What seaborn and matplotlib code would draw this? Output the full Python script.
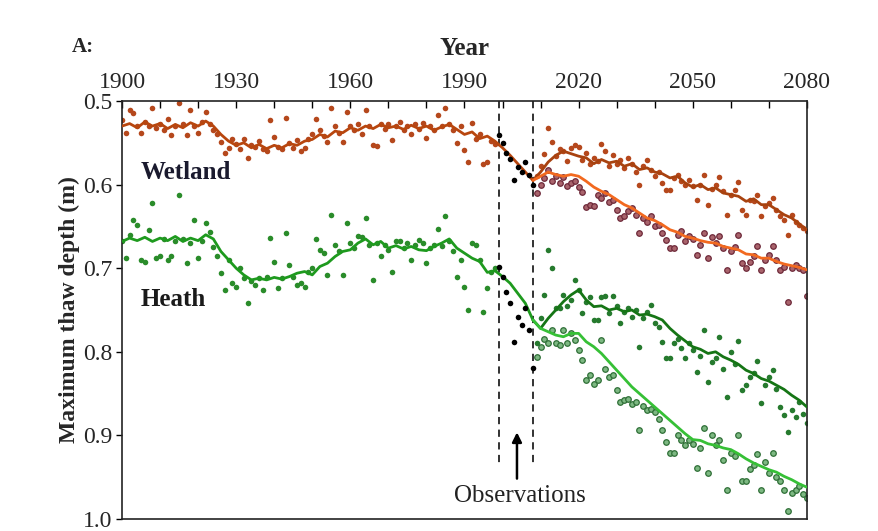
import numpy as np
import pandas as pd
import matplotlib
matplotlib.use("Agg")
import matplotlib.pyplot as plt
import seaborn as sns
from matplotlib.ticker import MultipleLocator, FormatStrFormatter

# ---------------- data ----------------
hist_years = list(range(1900, 1999))
wet_hist_pts = [0.523, 0.538, 0.511, 0.514, 0.530, 0.538, 0.525, 0.530, 0.508, 0.532,
                0.527, 0.535, 0.522, 0.541, 0.530, 0.502, 0.528, 0.541, 0.511, 0.530,
                0.538, 0.525, 0.513, 0.528, 0.535, 0.540, 0.549, 0.562, 0.556, 0.545,
                0.552, 0.558, 0.546, 0.568, 0.553, 0.555, 0.548, 0.558, 0.560, 0.523,
                0.543, 0.555, 0.558, 0.520, 0.550, 0.556, 0.547, 0.560, 0.556, 0.545,
                0.540, 0.522, 0.535, 0.542, 0.549, 0.508, 0.530, 0.538, 0.549, 0.513,
                0.530, 0.535, 0.528, 0.540, 0.511, 0.530, 0.553, 0.554, 0.527, 0.533,
                0.528, 0.547, 0.530, 0.525, 0.535, 0.530, 0.540, 0.528, 0.533, 0.526,
                0.544, 0.530, 0.535, 0.517, 0.530, 0.508, 0.527, 0.535, 0.550, 0.530,
                0.559, 0.573, 0.526, 0.545, 0.540, 0.575, 0.573, 0.548, 0.552]
heath_hist_pts = [0.668, 0.688, 0.660, 0.642, 0.648, 0.690, 0.692, 0.654, 0.622, 0.688,
                  0.685, 0.665, 0.690, 0.686, 0.668, 0.612, 0.665, 0.694, 0.670, 0.642,
                  0.688, 0.668, 0.646, 0.657, 0.675, 0.685, 0.706, 0.726, 0.690, 0.718,
                  0.722, 0.700, 0.712, 0.742, 0.715, 0.720, 0.712, 0.726, 0.710, 0.664,
                  0.692, 0.724, 0.712, 0.658, 0.696, 0.710, 0.720, 0.718, 0.723, 0.705,
                  0.700, 0.665, 0.678, 0.682, 0.708, 0.636, 0.672, 0.680, 0.708, 0.646,
                  0.670, 0.676, 0.662, 0.663, 0.640, 0.672, 0.714, 0.670, 0.686, 0.672,
                  0.678, 0.704, 0.668, 0.668, 0.676, 0.670, 0.690, 0.672, 0.666, 0.670,
                  0.694, 0.676, 0.672, 0.653, 0.674, 0.637, 0.668, 0.680, 0.711, 0.690,
                  0.722, 0.750, 0.670, 0.672, 0.690, 0.752, 0.724, 0.705, 0.700]

obs_years = [1999, 2000, 2001, 2002, 2003, 2004, 2005, 2006, 2007, 2008]
wet_obs = [0.541, 0.550, 0.562, 0.569, 0.594, 0.579, 0.585, 0.573, 0.589, 0.600]
heath_obs = [0.699, 0.710, 0.729, 0.742, 0.788, 0.758, 0.768, 0.748, 0.774, 0.819]

hist_line_years = list(range(1900, 2009, 2))
wet_hist_line = [0.530, 0.527, 0.532, 0.525, 0.530, 0.527, 0.533, 0.528, 0.532, 0.526,
                 0.530, 0.524, 0.530, 0.540, 0.548, 0.553, 0.550, 0.556, 0.552, 0.557,
                 0.553, 0.556, 0.551, 0.553, 0.548, 0.546, 0.540, 0.543, 0.536, 0.538,
                 0.532, 0.535, 0.530, 0.533, 0.528, 0.532, 0.530, 0.534, 0.529, 0.533,
                 0.530, 0.535, 0.531, 0.528, 0.534, 0.540, 0.537, 0.545, 0.542, 0.548,
                 0.556, 0.565, 0.575, 0.585, 0.595]
heath_hist_line = [0.668, 0.664, 0.667, 0.663, 0.668, 0.664, 0.667, 0.662, 0.668, 0.664,
                   0.667, 0.660, 0.665, 0.680, 0.690, 0.700, 0.708, 0.714, 0.712, 0.714,
                   0.711, 0.713, 0.710, 0.706, 0.704, 0.708, 0.698, 0.694, 0.686, 0.680,
                   0.678, 0.670, 0.665, 0.672, 0.668, 0.676, 0.673, 0.677, 0.674, 0.678,
                   0.679, 0.674, 0.670, 0.665, 0.676, 0.682, 0.688, 0.692, 0.705, 0.703,
                   0.710, 0.718, 0.730, 0.742, 0.762]

fut_years = list(range(2009, 2081))
wet_a_pts = [0.590, 0.578, 0.563, 0.532, 0.549, 0.566, 0.558, 0.560, 0.572, 0.556,
             0.553, 0.555, 0.570, 0.562, 0.575, 0.568, 0.572, 0.551, 0.560, 0.578,
             0.565, 0.575, 0.570, 0.580, 0.568, 0.575, 0.585, 0.600, 0.578, 0.571,
             0.582, 0.590, 0.585, 0.598, 0.606, 0.606, 0.592, 0.588, 0.596, 0.600,
             0.595, 0.602, 0.618, 0.600, 0.589, 0.624, 0.605, 0.600, 0.591, 0.608,
             0.636, 0.612, 0.606, 0.597, 0.630, 0.636, 0.618, 0.620, 0.612, 0.638,
             0.626, 0.622, 0.616, 0.630, 0.638, 0.642, 0.660, 0.636, 0.645, 0.648,
             0.652, 0.656]
wet_b_pts = [0.610, 0.600, 0.592, 0.583, 0.596, 0.590, 0.598, 0.591, 0.602, 0.598,
             0.596, 0.603, 0.609, 0.627, 0.624, 0.626, 0.612, 0.616, 0.610, 0.621,
             0.618, 0.630, 0.640, 0.638, 0.632, 0.628, 0.636, 0.658, 0.640, 0.645,
             0.638, 0.650, 0.648, 0.658, 0.666, 0.676, 0.676, 0.660, 0.655, 0.668,
             0.662, 0.665, 0.684, 0.672, 0.658, 0.688, 0.663, 0.670, 0.661, 0.676,
             0.702, 0.680, 0.675, 0.660, 0.694, 0.700, 0.692, 0.685, 0.674, 0.702,
             0.690, 0.684, 0.674, 0.690, 0.702, 0.698, 0.740, 0.700, 0.696, 0.700,
             0.702, 0.733]
heath_a_pts = [0.790, 0.760, 0.732, 0.678, 0.700, 0.748, 0.748, 0.732, 0.745, 0.738,
               0.714, 0.726, 0.753, 0.740, 0.735, 0.762, 0.762, 0.734, 0.733, 0.754,
               0.733, 0.745, 0.766, 0.752, 0.748, 0.758, 0.750, 0.794, 0.760, 0.752,
               0.744, 0.765, 0.770, 0.788, 0.807, 0.807, 0.790, 0.785, 0.795, 0.807,
               0.790, 0.798, 0.824, 0.805, 0.774, 0.836, 0.812, 0.807, 0.782, 0.820,
               0.854, 0.800, 0.815, 0.787, 0.846, 0.840, 0.830, 0.825, 0.811, 0.861,
               0.840, 0.830, 0.822, 0.845, 0.866, 0.876, 0.896, 0.870, 0.878, 0.860,
               0.875, 0.885]
heath_b_pts = [0.806, 0.794, 0.785, 0.790, 0.774, 0.790, 0.792, 0.774, 0.790, 0.778,
               0.786, 0.798, 0.810, 0.834, 0.828, 0.838, 0.834, 0.786, 0.820, 0.830,
               0.828, 0.846, 0.860, 0.858, 0.856, 0.862, 0.860, 0.893, 0.865, 0.870,
               0.868, 0.872, 0.880, 0.893, 0.908, 0.921, 0.921, 0.900, 0.905, 0.911,
               0.905, 0.910, 0.939, 0.915, 0.891, 0.945, 0.900, 0.912, 0.905, 0.929,
               0.965, 0.921, 0.925, 0.900, 0.955, 0.955, 0.940, 0.935, 0.922, 0.965,
               0.932, 0.945, 0.921, 0.950, 0.955, 0.965, 0.990, 0.969, 0.965, 0.960,
               0.970, 0.975]

fut_line_years = list(range(2008, 2081, 2))
wet_a_line = [0.595, 0.585, 0.573, 0.565, 0.560, 0.563, 0.566, 0.568, 0.575, 0.570,
              0.574, 0.572, 0.578, 0.575, 0.582, 0.580, 0.585, 0.587, 0.592, 0.590,
              0.598, 0.603, 0.600, 0.606, 0.604, 0.610, 0.612, 0.614, 0.620, 0.617,
              0.624, 0.624, 0.630, 0.636, 0.640, 0.647, 0.654]
wet_b_line = [0.595, 0.590, 0.585, 0.588, 0.590, 0.588, 0.590, 0.596, 0.603, 0.608,
              0.612, 0.618, 0.624, 0.628, 0.634, 0.640, 0.643, 0.648, 0.654, 0.657,
              0.662, 0.664, 0.667, 0.669, 0.670, 0.674, 0.676, 0.678, 0.683, 0.684,
              0.688, 0.688, 0.692, 0.695, 0.697, 0.699, 0.702]
heath_a_line = [0.762, 0.772, 0.760, 0.750, 0.740, 0.732, 0.726, 0.738, 0.746, 0.745,
                0.750, 0.748, 0.752, 0.750, 0.756, 0.755, 0.758, 0.762, 0.772, 0.780,
                0.787, 0.794, 0.797, 0.802, 0.800, 0.806, 0.810, 0.815, 0.822, 0.826,
                0.832, 0.835, 0.840, 0.845, 0.852, 0.858, 0.866]
heath_b_line = [0.762, 0.772, 0.776, 0.780, 0.782, 0.778, 0.778, 0.788, 0.794, 0.802,
                0.812, 0.822, 0.832, 0.842, 0.850, 0.858, 0.866, 0.874, 0.882, 0.890,
                0.898, 0.905, 0.906, 0.910, 0.912, 0.915, 0.917, 0.922, 0.928, 0.933,
                0.937, 0.941, 0.944, 0.949, 0.953, 0.958, 0.962]

obs_bounds = [1999, 2008]
x_ticks = [1900, 1930, 1960, 1990, 2020, 2050, 2080]

# ---------------- style ----------------
sns.set_theme(style="white")
SERIF = ["Liberation Serif", "DejaVu Serif"]
plt.rcParams["font.family"] = SERIF

fig = plt.figure(figsize=(8.79, 5.31), dpi=100)
ax = fig.add_axes([0.1388, 0.0226, 0.918 - 0.1388, 0.8098 - 0.0226])

c_wet = "#b8460e"
c_wet_pt = "#b5481c"
c_wet_b = "#f2691f"
c_heath = "#1e9a1e"
c_heath_pt = "#2a8c2a"
c_heath_a = "#157515"
c_heath_b = "#36c036"

s = 16
sns.scatterplot(x=hist_years, y=wet_hist_pts, ax=ax, color=c_wet_pt, s=s, linewidth=0, zorder=2)
sns.scatterplot(x=hist_years, y=heath_hist_pts, ax=ax, color=c_heath_pt, s=s, linewidth=0, zorder=2)
sns.scatterplot(x=fut_years, y=wet_a_pts, ax=ax, color=c_wet_pt, s=s, linewidth=0, zorder=2)
sns.scatterplot(x=fut_years, y=wet_b_pts, ax=ax, color="#a9646c", s=s, edgecolor="#6e2a3a",
                linewidth=0.9, zorder=2)
sns.scatterplot(x=fut_years, y=heath_a_pts, ax=ax, color="#267a2e", s=s, linewidth=0, zorder=2)
sns.scatterplot(x=fut_years, y=heath_b_pts, ax=ax, color="#7db882", s=s, edgecolor="#2f6f37",
                linewidth=0.9, zorder=2)

lw = 2.0
sns.lineplot(x=hist_line_years, y=wet_hist_line, ax=ax, color=c_wet, lw=lw, zorder=3)
sns.lineplot(x=hist_line_years, y=heath_hist_line, ax=ax, color=c_heath, lw=lw, zorder=3)
sns.lineplot(x=fut_line_years, y=wet_a_line, ax=ax, color="#a8420f", lw=lw, zorder=3)
sns.lineplot(x=fut_line_years, y=wet_b_line, ax=ax, color=c_wet_b, lw=lw, zorder=3)
sns.lineplot(x=fut_line_years, y=heath_a_line, ax=ax, color=c_heath_a, lw=lw, zorder=3)
sns.lineplot(x=fut_line_years, y=heath_b_line, ax=ax, color=c_heath_b, lw=lw, zorder=3)

sns.scatterplot(x=obs_years, y=wet_obs, ax=ax, color="black", s=s, linewidth=0, zorder=4)
sns.scatterplot(x=obs_years, y=heath_obs, ax=ax, color="black", s=s, linewidth=0, zorder=4)

for xb in obs_bounds:
    ax.plot([xb, xb], [0.5, 0.935], ls=(0, (4, 3)), color="#222222", lw=1.3, zorder=1)

ax.annotate("", xy=(2003.8, 0.893), xytext=(2003.8, 0.955),
            arrowprops=dict(arrowstyle="-|>", color="black", lw=1.8, mutation_scale=14))
ax.text(2004.5, 0.972, "Observations", ha="center", va="center", fontsize=18, color="#222222")

ax.text(1905, 0.585, "Wetland", fontsize=18, fontweight="bold", color="#1a1a2e", va="center")
ax.text(1905, 0.738, "Heath", fontsize=18, fontweight="bold", color="#1a1a1a", va="center")

ax.set_xlim(1900, 2080)
ax.set_ylim(1.0, 0.5)
ax.xaxis.tick_top()
ax.xaxis.set_label_position("top")
ax.set_xticks(x_ticks)
ax.xaxis.set_minor_locator(MultipleLocator(10))
ax.yaxis.set_major_locator(MultipleLocator(0.1))
ax.yaxis.set_major_formatter(FormatStrFormatter("%.1f"))
ax.tick_params(axis="x", which="both", direction="in", top=True, bottom=False,
               length=5, width=1, labelsize=17, pad=6, color="black")
ax.tick_params(axis="y", which="major", direction="out", left=True, length=4,
               width=1, labelsize=17, pad=3, color="black")
ax.set_xlabel("Year", fontsize=18, fontweight="bold", labelpad=12)
ax.set_ylabel("Maximum thaw depth (m)", fontsize=17, fontweight="bold", labelpad=2)
for sp in ax.spines.values():
    sp.set_color("#222222")
    sp.set_linewidth(1.2)
ax.grid(False)

fig.text(72 / 879, 1 - 47 / 531, "A:", fontsize=15, fontweight="bold", va="center", ha="left")

fig.savefig("out.png", dpi=100)
